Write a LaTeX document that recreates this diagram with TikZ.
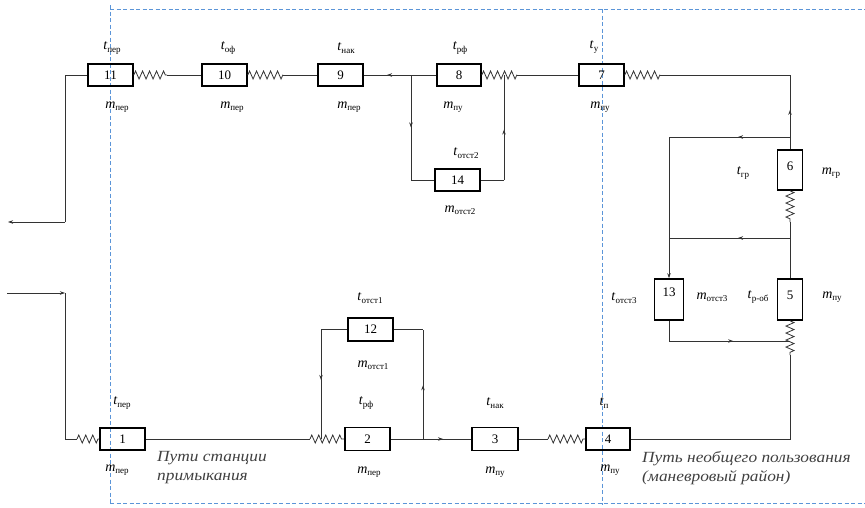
\documentclass[tikz,border=0pt]{standalone}
\usepackage{fontspec}
\setmainfont{Liberation Serif}
\newfontfamily\capfont{Liberation Serif}[FakeStretch=1.12]
\usetikzlibrary{decorations.pathmorphing,decorations.markings,arrows.meta}
\definecolor{regionblue}{HTML}{5B95D8}
\definecolor{wiregray}{HTML}{333333}
\newcommand\Tlab[1]{\textit{t}{\fontsize{9}{9}\selectfont\raisebox{-2.5pt}{#1}}}
\newcommand\Mlab[1]{\textit{m}{\fontsize{9}{9}\selectfont\raisebox{-2.5pt}{#1}}}
\begin{document}
\begin{tikzpicture}[x=1pt,y=-1pt,
 box/.style={draw=black, line width=1.6pt, minimum height=22pt, inner sep=0pt, font=\fontsize{13}{13}\selectfont},
 hbox/.style={box, minimum width=45pt},
 vbox/.style={box, minimum width=25pt, minimum height=40pt},
 wire/.style={draw=wiregray, line width=0.8pt},
 spring/.style={wire, decorate, decoration={zigzag, segment length=7pt, amplitude=4pt}},
 midarrow/.style={postaction={decorate}, decoration={markings, mark=at position #1 with {\arrow{Stealth[length=5pt,width=3.5pt]}}}},
 endarrow/.style={-{Stealth[length=5pt,width=3.5pt]}},
 lbl/.style={inner sep=0pt, font=\fontsize{14}{14}\selectfont},
 region/.style={draw=regionblue, line width=1pt, dash pattern=on 4pt off 2.5pt},
 regiontext/.style={inner sep=0pt, anchor=north west, align=left, text=black!75, font=\capfont\fontsize{15.5}{19}\selectfont\itshape}
]
\useasboundingbox (0,0) rectangle (865,507);
% regions
\draw[region] (110,5) -- (110,505);
\draw[region] (110,9) -- (865,9);
\draw[region] (602,9) -- (602,505);
\draw[region] (110,503) -- (865,503);

% boxes
\node[hbox] (b11) at (110.5,75) {11};
\node[hbox] (b10) at (224.5,75) {10};
\node[hbox] (b9) at (340.5,75) {9};
\node[hbox,minimum width=44pt] (b8) at (459,75) {8};
\node[hbox] (b7) at (601.5,75) {7};
\node[hbox] (b14) at (457.5,180) {14};
\node[vbox] (b6) at (790,170) {\raisebox{8pt}{6}};
\node[vbox,minimum height=41pt] (b5) at (790,299.5) {\raisebox{8pt}{5}};
\node[vbox,minimum width=29pt,minimum height=41pt] (b13) at (669,299.5) {\raisebox{14pt}{13}};
\node[hbox] (b1) at (122.5,439) {1};
\node[hbox,minimum height=23pt] (b2) at (367.5,439) {2};
\node[hbox,minimum width=46pt,minimum height=23pt] (b3) at (495,439) {3};
\node[hbox,minimum width=44pt] (b4) at (608,439) {4};
\node[hbox,minimum height=23pt] (b12) at (370.5,329.5) {12};

% coordinates
\coordinate (z11) at (167,75);
\coordinate (z10) at (283,75);
\coordinate (z8) at (517,75);
\coordinate (z7) at (660,75);
\coordinate (jTop) at (411,75);
\coordinate (jSpr) at (504,75);
\coordinate (tr) at (790,75);
\coordinate (tl) at (65,75);
\coordinate (tlb) at (65,222);
\coordinate (outL) at (8,222);
\coordinate (inL) at (7,293);
\coordinate (blc) at (65,293);
\coordinate (bl) at (65,439);
\coordinate (z1) at (77,439);
\coordinate (z2) at (310,439);
\coordinate (j2a) at (321,439);
\coordinate (j2b) at (423,439);
\coordinate (z3) at (548,439);
\coordinate (br) at (790,439);
\coordinate (z5) at (790,355);
\coordinate (j5) at (790,341);
\coordinate (c13b) at (669,341);
\coordinate (j6a) at (790,137);
\coordinate (c13a) at (669,137);
\coordinate (j6b) at (790,238);
\coordinate (c13c) at (669,238);
\coordinate (z6) at (790,222);
\coordinate (c14l) at (411,180);
\coordinate (c14r) at (504,180);
\coordinate (c12l) at (321,329.5);
\coordinate (c12r) at (423,329.5);

% top row
\draw[spring] (b11.east) -- (z11);
\draw[wire] (z11) -- (b10.west);
\draw[spring] (b10.east) -- (z10);
\draw[wire] (z10) -- (b9.west);
\draw[wire, midarrow=0.68] (b8.west) -- (b9.east);
\draw[spring] (b8.east) -- (z8);
\draw[wire] (z8) -- (b7.west);
\draw[spring] (b7.east) -- (z7);
\draw[wire] (z7) -- (tr);
% branch 14
\draw[wire, midarrow=0.5] (jTop) -- (c14l);
\draw[wire] (c14l) -- (b14.west);
\draw[wire] (b14.east) -- (c14r);
\draw[wire, midarrow=0.48] (c14r) -- (jSpr);
% right side
\draw[wire, midarrow=0.53] (b6.north) -- (tr);
\draw[wire, midarrow=0.43] (j6a) -- (c13a);
\draw[wire] (c13a) -- (c13c);
\draw[wire, endarrow] (c13c) -- (b13.north);
\draw[spring] (b6.south) -- (z6);
\draw[wire] (z6) -- (b5.north);
\draw[wire, midarrow=0.43] (j6b) -- (c13c);
\draw[wire] (b13.south) -- (c13b);
\draw[wire, midarrow=0.53] (c13b) -- (j5);
\draw[spring] (b5.south) -- (z5);
\draw[wire] (b4.east) -- (br) -- (z5);
% bottom row
\draw[wire] (b1.east) -- (z2);
\draw[spring] (z2) -- (b2.west);
\draw[wire] (b12.west) -- (c12l);
\draw[wire, midarrow=0.46] (c12l) -- (j2a);
\draw[wire] (b12.east) -- (c12r);
\draw[wire, midarrow=0.49] (j2b) -- (c12r);
\draw[wire, midarrow=0.65] (b2.east) -- (b3.west);
\draw[wire] (b3.east) -- (z3);
\draw[spring] (z3) -- (b4.west);
% left side
\draw[wire] (b11.west) -- (tl) -- (tlb);
\draw[wire, endarrow] (tlb) -- (outL);
\draw[wire, endarrow] (inL) -- (blc);
\draw[wire] (blc) -- (bl) -- (z1);
\draw[spring] (z1) -- (b1.west);

% labels
\node[lbl] (t11) at (112,48) {\Tlab{пер}};
\node[lbl] (m11) at (117,107) {\Mlab{пер}};
\node[lbl] (t10) at (228,48) {\Tlab{оф}};
\node[lbl] (m10) at (232,107) {\Mlab{пер}};
\node[lbl] (t9) at (346,48) {\Tlab{нак}};
\node[lbl] (m9) at (349,107) {\Mlab{пер}};
\node[lbl] (t8) at (460,48) {\Tlab{рф}};
\node[lbl] (m8) at (453,107) {\Mlab{пу}};
\node[lbl] (t7) at (594,47) {\Tlab{у}};
\node[lbl] (m7) at (600,107) {\Mlab{пу}};
\node[lbl] (t14) at (466,153) {\Tlab{отст2}};
\node[lbl] (m14) at (460,210) {\Mlab{отст2}};
\node[lbl] (t6) at (743,173) {\Tlab{гр}};
\node[lbl] (m6) at (831,173) {\Mlab{гр}};
\node[lbl] (t13) at (624,298) {\Tlab{отст3}};
\node[lbl] (m13) at (712,297) {\Mlab{отст3}};
\node[lbl] (t5) at (758,297) {\Tlab{р-об}};
\node[lbl] (m5) at (832,297) {\Mlab{пу}};
\node[lbl] (t12) at (370,298) {\Tlab{отст1}};
\node[lbl] (m12) at (373,365) {\Mlab{отст1}};
\node[lbl] (t2) at (366,403) {\Tlab{рф}};
\node[lbl] (m2) at (369,472) {\Mlab{пер}};
\node[lbl] (t3) at (495,403) {\Tlab{нак}};
\node[lbl] (m3) at (495,472) {\Mlab{пу}};
\node[lbl] (t1) at (122,403) {\Tlab{пер}};
\node[lbl] (m1) at (117,470) {\Mlab{пер}};
\node[lbl] (t4) at (604,403) {\Tlab{п}};
\node[lbl] (m4) at (610,470) {\Mlab{пу}};

% region captions
\node[regiontext] (cap1) at (157,451) {Пути станции\\примыкания};
\node[regiontext] (cap2) at (642,451) {Путь необщего пользования\\(маневровый район)};
\end{tikzpicture}
\end{document}
